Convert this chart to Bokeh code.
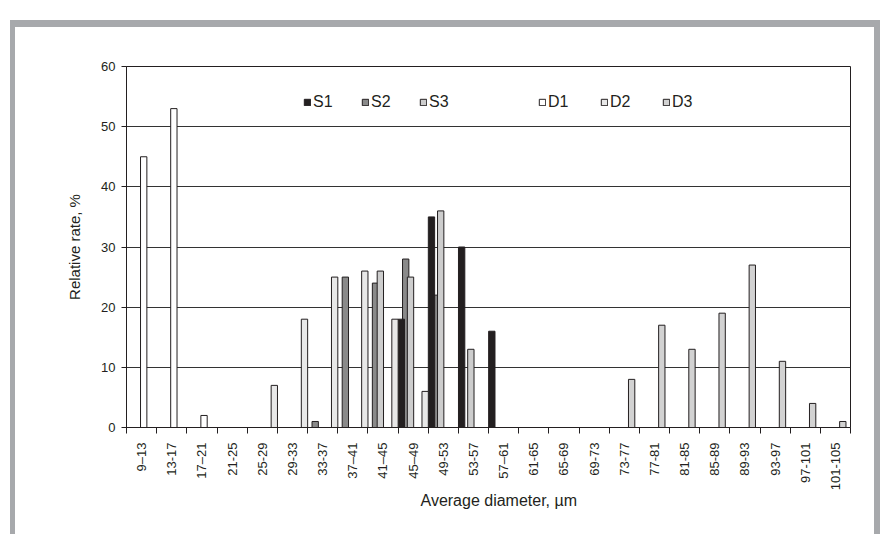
import math
from bokeh.plotting import figure
from bokeh.models import (ColumnDataSource, FixedTicker, Legend, LegendItem,
                          Range1d, InlineStyleSheet, Title)
from bokeh.transform import dodge
from bokeh.embed import file_html
from bokeh.resources import INLINE

categories = ["9–13", "13-17", "17–21", "21-25", "25-29", "29-33", "33-37",
              "37–41", "41–45", "45–49", "49-53", "53-57", "57–61", "61-65",
              "65-69", "69-73", "73-77", "77-81", "81-85", "85-89", "89-93",
              "93-97", "97-101", "101-105"]

s1 = [0, 0, 0, 0, 0, 0, 0, 0, 0, 18, 35, 30, 16, 0, 0, 0, 0, 0, 0, 0, 0, 0, 0, 0]
s2 = [0, 0, 0, 0, 0, 0, 1, 25, 24, 28, 22, 0, 0, 0, 0, 0, 0, 0, 0, 0, 0, 0, 0, 0]
s3 = [0, 0, 0, 0, 0, 0, 0, 0, 26, 25, 36, 13, 0, 0, 0, 0, 0, 0, 0, 0, 0, 0, 0, 0]
d1 = [45, 53, 2, 0, 0, 0, 0, 0, 0, 0, 0, 0, 0, 0, 0, 0, 0, 0, 0, 0, 0, 0, 0, 0]
d2 = [0, 0, 0, 0, 7, 18, 25, 26, 18, 6, 0, 0, 0, 0, 0, 0, 0, 0, 0, 0, 0, 0, 0, 0]
d3 = [0, 0, 0, 0, 0, 0, 0, 0, 0, 0, 0, 0, 0, 0, 0, 0, 8, 17, 13, 19, 27, 11, 4, 1]

y_ticks = [0, 10, 20, 30, 40, 50, 60]

INK = "#231f20"
FONT = "Liberation Sans"
W_FIG, H_FIG = 880, 534

p = figure(width=W_FIG, height=H_FIG, output_backend="svg", toolbar_location=None,
           x_range=Range1d(-0.5, len(categories) - 0.5), y_range=Range1d(0, 60),
           min_border_left=126, min_border_right=30, min_border_top=66,
           min_border_bottom=107)
p.background_fill_color = "white"
p.border_fill_color = "white"
p.outline_line_color = INK
p.outline_line_width = 1

# outer grey frame of the figure panel (open at the bottom)
p.stylesheets = [InlineStyleSheet(css="""
:host { position: relative; }
:host::after {
  content: "";
  position: absolute;
  left: 10px; top: 20px; width: 870px; height: 514px;
  box-sizing: border-box;
  border-left: 5px solid #a7a9ac;
  border-right: 6px solid #a7a9ac;
  border-top: 7px solid #a7a9ac;
  pointer-events: none;
  z-index: 10;
}
""")]

def src(vals):
    idx = [i for i, v in enumerate(vals) if v > 0]
    return ColumnDataSource(dict(idx=idx, value=[vals[i] for i in idx]))

W = 0.21
series = [
    ("S2", s2, -0.245, "#8a8a8a"),
    ("S1", s1, -0.39, "#231f20"),
    ("S3", s3, -0.085, "#cdcdcd"),
    ("D1", d1, 0.07, "#ffffff"),
    ("D3", d3, 0.245, "#d2d2d2"),
    ("D2", d2, 0.40, "#e8e8e8"),
]
rends = {}
for name, vals, off, col in series:
    rends[name] = p.vbar(x=dodge("idx", off), top="value", width=W, bottom=0,
                         source=src(vals), fill_color=col, line_color=INK,
                         line_width=1)

# axes
xa = p.xaxis[0]
xa.ticker = FixedTicker(ticks=list(range(len(categories))),
                        minor_ticks=[i - 0.5 for i in range(len(categories) + 1)])
xa.major_label_overrides = {i: c for i, c in enumerate(categories)}
xa.major_label_orientation = math.pi / 2
xa.major_tick_out = 0
xa.major_tick_in = 0
xa.minor_tick_out = 6
xa.minor_tick_in = 0
xa.minor_tick_line_color = INK
xa.major_label_standoff = 9

ya = p.yaxis[0]
ya.ticker = FixedTicker(ticks=y_ticks)
ya.major_tick_out = 5
ya.major_tick_in = 0
ya.minor_tick_out = 0
ya.minor_tick_in = 0
ya.major_label_standoff = 6
ya.axis_label = "Relative rate, %"
ya.axis_label_standoff = 15

for ax in (xa, ya):
    ax.axis_line_color = INK
    ax.major_tick_line_color = INK
    ax.major_label_text_font = FONT
    ax.major_label_text_font_size = "13px"
    ax.major_label_text_color = INK
    ax.axis_label_text_font = FONT
    ax.axis_label_text_font_size = "15px"
    ax.axis_label_text_font_style = "normal"
    ax.axis_label_text_color = INK

# x-axis title, placed below the tick labels (slightly right of centre, as in the original)
p.add_layout(Title(text="Average diameter, µm", align="left", offset=294,
                   text_font=FONT, text_font_size="16px", text_font_style="normal",
                   text_color=INK, standoff=-8), "below")

p.xgrid.grid_line_color = None
p.ygrid.grid_line_color = "#333333"
p.ygrid.grid_line_width = 1
p.ygrid.ticker = FixedTicker(ticks=y_ticks)

def make_legend(names, x, pitch):
    lg = Legend(items=[LegendItem(label=n, renderers=[rends[n]]) for n in names],
                location=(x, 316), orientation="horizontal",
                glyph_width=8, glyph_height=8, label_standoff=2,
                label_width=pitch - 8 - 2 - 3, spacing=3, padding=0, margin=0,
                label_height=16,
                label_text_font=FONT, label_text_font_size="16px",
                label_text_color=INK, background_fill_alpha=0,
                border_line_alpha=0)
    p.add_layout(lg, "center")

make_legend(["S1", "S2", "S3"], 177, 58)
make_legend(["D1", "D2", "D3"], 412, 62)

open("out.html", "w").write(file_html(p, INLINE))
